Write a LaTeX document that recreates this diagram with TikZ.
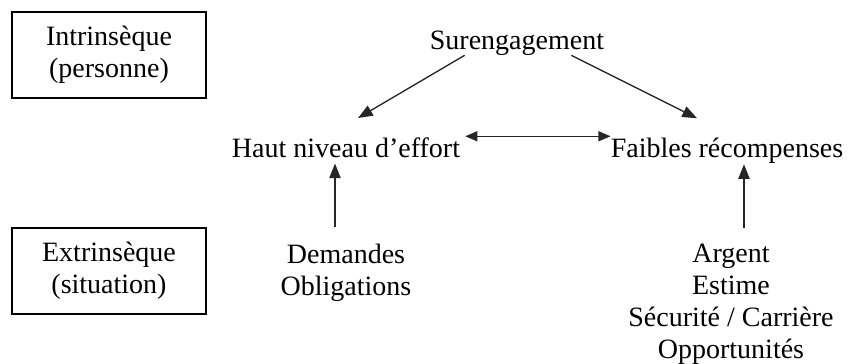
\documentclass[tikz,border=0pt]{standalone}
\usepackage{fontspec}
\setmainfont{Liberation Serif}
\usetikzlibrary{arrows.meta,calc}

\begin{document}
\begin{tikzpicture}[
  x=0.75pt,y=-0.75pt,
  every node/.style={font=\fontsize{21}{24}\selectfont,align=center},
  level/.style={draw=black,line width=1pt,inner sep=0pt,
    minimum width=145.5pt,minimum height=64.5pt},
  concept/.style={inner sep=0pt},
  link/.style={-{Triangle[length=11pt,width=8.5pt]},line width=1pt,black!85},
  mutual/.style={{Triangle[length=9pt,width=7.5pt]}-{Triangle[length=9pt,width=7.5pt]},
    line width=1pt,black!85}
]
\useasboundingbox (0,0) rectangle (853,364);

% niveaux
\node[level] (intr) at (109,55) {Intrinsèque\\(personne)};
\node[level] (extr) at (109,271) {Extrinsèque\\(situation)};

% concepts
\node[concept,anchor=base] (sur) at (517,49) {Surengagement};
\node[concept,anchor=base] (haut) at (346,157) {Haut niveau d’effort};
\node[concept,anchor=base] (faib) at (727,157) {Faibles récompenses};
\node[concept,anchor=north] (dem) at (346,244) {Demandes\\Obligations};
\node[concept,anchor=north] (arg) at (731,244) {Argent\\Estime\\Sécurité / Carrière\\Opportunités};

\draw[link] ($(sur.south west)+(35,0)$) -- ($(haut.north)+(12,-19)$);
\draw[link] ($(sur.south east)+(-33,0)$) -- ($(faib.north)+(-30,-19)$);
\draw[mutual] ($(haut.east)+(5,-11)$) coordinate (m) -- (m -| faib.west);
\draw[link] ($(dem.north)+(-11,-17)$) -- ($(haut.south)+(-11,6)$);
\draw[link] ($(arg.north)+(13,-16)$) -- ($(faib.south)+(17,1)$);
\end{tikzpicture}
\end{document}
